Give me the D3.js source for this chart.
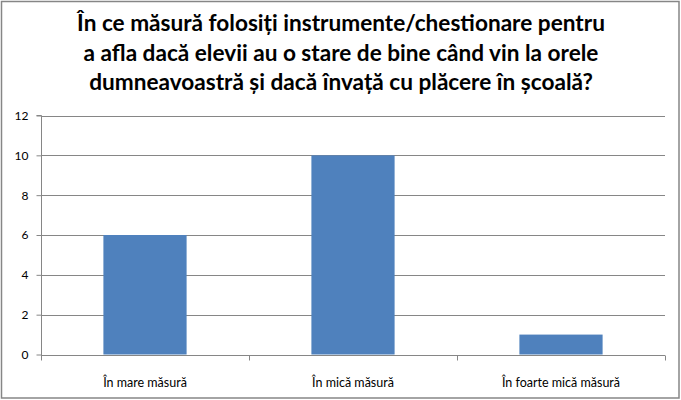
<!DOCTYPE html>
<html><head><meta charset="utf-8">
<script src="https://cdn.jsdelivr.net/npm/d3@7"></script>
<style>body{margin:0;background:#fff}</style>
</head><body>
<svg id="c" width="681" height="400"></svg>
<script>
const titleLines = ["În ce măsură folosiți instrumente/chestionare pentru","a afla dacă elevii au o stare de bine când vin la orele","dumneavoastră și dacă învață cu plăcere în școală?"];
const categories = ["În mare măsură","În mică măsură","În foarte mică măsură"];
const values = [6,10,1];
const yTicks = [0,2,4,6,8,10,12];

const svg = d3.select("#c");
svg.append("rect").attr("x",1.5).attr("y",1.5).attr("width",677.5).attr("height",396.5)
  .attr("fill","#fff").attr("stroke","#868686").attr("stroke-width",1.5);

const m = {left:41, right:665, top:115.5, bottom:354.5};
const x = d3.scaleBand().domain(categories).range([m.left,m.right]).paddingInner(0.6).paddingOuter(0.3);
const y = d3.scaleLinear().domain([0,12]).range([m.bottom,m.top]);

const font = "Lato, 'Open Sans', sans-serif";

// gridlines
svg.append("g").selectAll("line").data(yTicks.filter(d=>d>0)).join("line")
  .attr("x1",m.left).attr("x2",m.right).attr("y1",d=>Math.round(y(d))+0.5).attr("y2",d=>Math.round(y(d))+0.5)
  .attr("stroke","#868686").attr("stroke-width",1);

// bars
svg.append("g").selectAll("rect").data(values).join("rect")
  .attr("x",(d,i)=>x(categories[i])).attr("width",x.bandwidth())
  .attr("y",d=>y(d)).attr("height",d=>y(0)-y(d)).attr("fill","#4f81bd");

// y axis
const ya = svg.append("g").attr("transform",`translate(${m.left+0.5},0)`)
  .call(d3.axisLeft(y).tickValues(yTicks).tickSize(5).tickPadding(8).tickFormat(d3.format("d")));
ya.select(".domain").attr("stroke","#868686").attr("d",`M-5,${m.top}H0V${m.bottom+0.5}`);
ya.selectAll(".tick line").attr("stroke","#868686");
ya.selectAll("text").attr("font-family",font).attr("font-size",12).attr("fill","#000");

// x axis
const xa = svg.append("g").attr("transform",`translate(0,${Math.round(y(0))+0.5})`)
  .call(d3.axisBottom(x).tickSize(0).tickPadding(23));
xa.select(".domain").attr("stroke","#868686").attr("d",`M${m.left},0H${m.right}`);
xa.selectAll("text").attr("font-family",font).attr("font-size",12.5).attr("fill","#000");
const bw = (m.right-m.left)/categories.length;
xa.append("g").selectAll("line").data(d3.range(categories.length+1)).join("line")
  .attr("x1",i=>Math.round(m.left+i*bw)+0.5).attr("x2",i=>Math.round(m.left+i*bw)+0.5)
  .attr("y1",0).attr("y2",5).attr("stroke","#868686");

// title
const targetW = [528, 515, 502];
const tt = svg.append("g").selectAll("text").data(titleLines).join("text")
  .attr("x",341).attr("y",(d,i)=>31+i*29.5).attr("text-anchor","middle")
  .attr("font-family",font).attr("font-weight","bold").attr("font-size",20).attr("fill","#000")
  .text(d=>d);
const w0 = tt.nodes()[0].getComputedTextLength();
tt.attr("font-size", 20*targetW[0]/w0);
</script>
</body></html>
